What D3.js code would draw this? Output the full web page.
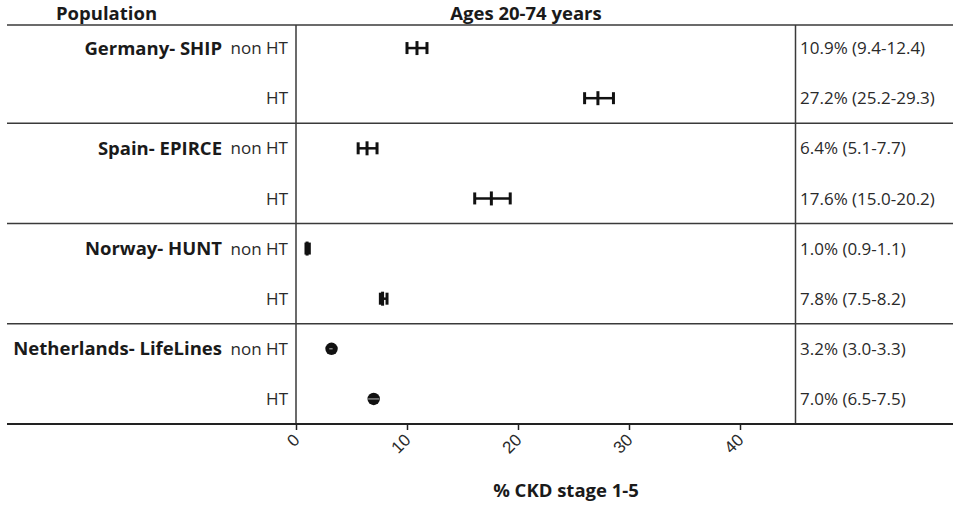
<!DOCTYPE html>
<html lang="en">
<head>
  <meta charset="UTF-8" />
  <title>CKD prevalence forest plot</title>
  <script src="https://d3js.org/d3.v7.min.js"></script>
  <style>
    body {
      margin: 0;
      background: white;
      font-family: "Open Sans", Lato, sans-serif;
      color: #222;
    }

    svg {
      display: block;
    }

    .grid-line {
      stroke: #3a3a3a;
      stroke-width: 1.5px;
    }

    .bold-label {
      font-size: 18.5px;
      font-weight: bold;
      fill: #1a1a1a;
    }

    .row-label,
    .ci-label {
      font-size: 17px;
      fill: #2a2a2a;
    }

    .axis text {
      font-size: 17px;
      fill: #2a2a2a;
    }

    .axis line {
      stroke: #222;
      stroke-width: 1.5px;
    }

    .whisker {
      stroke: #111;
      stroke-width: 2.5px;
    }

    .cap {
      stroke: #111;
      stroke-width: 3px;
    }
  </style>
</head>
<body>
  <svg width="953" height="506"></svg>

  <script>
    // data
    const populations = ["Germany- SHIP", "Spain- EPIRCE", "Norway- HUNT", "Netherlands- LifeLines"];
    const groups = ["non HT", "HT"];
    const estimate = [10.9, 27.2, 6.4, 17.6, 1.0, 7.8, 3.2, 7.0];
    // whisker ends as drawn in the figure
    const whiskerLow  = [10.0, 26.0, 5.6, 16.1, 0.9, 7.6, 3.0, 6.5];
    const whiskerHigh = [11.8, 28.6, 7.3, 19.3, 1.2, 8.2, 3.3, 7.5];
    const ciLabels = [
      "10.9% (9.4-12.4)", "27.2% (25.2-29.3)",
      "6.4% (5.1-7.7)", "17.6% (15.0-20.2)",
      "1.0% (0.9-1.1)", "7.8% (7.5-8.2)",
      "3.2% (3.0-3.3)", "7.0% (6.5-7.5)"
    ];
    const markerType = ["bar", "bar", "bar", "bar", "bar", "bar", "dot", "dot"];
    const xTicks = [0, 10, 20, 30, 40];

    const rows = [];
    populations.forEach((p, i) => {
      groups.forEach((g, j) => {
        const k = i * groups.length + j;
        rows.push({
          id: p + "|" + g,
          population: p,
          group: g,
          first: j === 0,
          est: estimate[k],
          lo: whiskerLow[k],
          hi: whiskerHigh[k],
          label: ciLabels[k],
          marker: markerType[k]
        });
      });
    });

    const svg = d3.select("svg"),
          width = +svg.attr("width");

    const plotLeft = 296, plotRight = 795.5, plotTop = 25, plotBottom = 424;

    const x = d3.scaleLinear()
                .domain([0, 45])
                .range([plotLeft, plotRight]);

    const y = d3.scaleBand()
                .domain(rows.map(d => d.id))
                .range([plotTop - 2, plotBottom]);

    const section = d3.scaleBand()
                      .domain(populations)
                      .range([plotTop - 2, plotBottom]);

    const cy = d => y(d.id) + y.bandwidth() / 2;

    // header
    svg.append("text")
       .attr("class", "bold-label")
       .attr("x", 56)
       .attr("y", 20)
       .text("Population");

    svg.append("text")
       .attr("class", "bold-label")
       .attr("x", 526)
       .attr("y", 20)
       .attr("text-anchor", "middle")
       .text("Ages 20-74 years");

    // horizontal separators
    svg.selectAll(".sep")
       .data(populations.slice(1))
       .enter()
       .append("line")
       .attr("class", "grid-line")
       .attr("x1", 7)
       .attr("x2", width)
       .attr("y1", d => section(d))
       .attr("y2", d => section(d));

    svg.append("line")
       .attr("class", "grid-line")
       .attr("x1", 7).attr("x2", width)
       .attr("y1", plotTop).attr("y2", plotTop);

    // vertical lines
    [plotLeft, plotRight].forEach(v => {
      svg.append("line")
         .attr("class", "grid-line")
         .attr("x1", v).attr("x2", v)
         .attr("y1", plotTop).attr("y2", plotBottom);
    });

    // x axis
    const axis = svg.append("g")
       .attr("class", "axis")
       .attr("transform", `translate(0,${plotBottom})`)
       .call(d3.axisBottom(x).tickValues(xTicks).tickSize(6).tickSizeOuter(0));

    axis.select(".domain").remove();
    axis.selectAll("text")
        .attr("y", 0)
        .attr("dy", 0)
        .attr("transform", "translate(1,14) rotate(-45)")
        .style("text-anchor", "end")
        .attr("dominant-baseline", "middle");

    svg.append("line")
       .attr("x1", 7).attr("x2", width)
       .attr("y1", plotBottom).attr("y2", plotBottom)
       .attr("stroke", "#222")
       .attr("stroke-width", 2.2);

    svg.append("text")
       .attr("class", "bold-label")
       .attr("x", 566)
       .attr("y", 497)
       .attr("text-anchor", "middle")
       .text("% CKD stage 1-5");

    // population names
    svg.selectAll(".pop-label")
       .data(rows.filter(d => d.first))
       .enter()
       .append("text")
       .attr("class", "bold-label")
       .attr("x", 222)
       .attr("y", cy)
       .attr("dy", "0.36em")
       .attr("text-anchor", "end")
       .text(d => d.population);

    // group labels
    svg.selectAll(".row-label")
       .data(rows)
       .enter()
       .append("text")
       .attr("class", "row-label")
       .attr("x", 288)
       .attr("y", cy)
       .attr("dy", "0.36em")
       .attr("text-anchor", "end")
       .text(d => d.group);

    // CI text
    svg.selectAll(".ci-label")
       .data(rows)
       .enter()
       .append("text")
       .attr("class", "ci-label")
       .attr("x", 800)
       .attr("y", cy)
       .attr("dy", "0.36em")
       .text(d => d.label);

    // error bars
    const bars = svg.selectAll(".ebar")
       .data(rows)
       .enter()
       .append("g")
       .attr("transform", d => `translate(0,${cy(d)})`);

    bars.filter(d => d.marker === "bar").each(function(d) {
      const g = d3.select(this);
      g.append("line").attr("class", "whisker")
       .attr("x1", x(d.lo)).attr("x2", x(d.hi)).attr("y1", 0).attr("y2", 0);
      [d.lo, d.hi].forEach(v => {
        g.append("line").attr("class", "cap")
         .attr("x1", x(v)).attr("x2", x(v)).attr("y1", -6).attr("y2", 6);
      });
      g.append("line")
       .attr("x1", x(d.est)).attr("x2", x(d.est))
       .attr("y1", -7).attr("y2", 7)
       .attr("stroke", "#111")
       .attr("stroke-width", 3);
    });

    bars.filter(d => d.marker === "dot").each(function(d) {
      const g = d3.select(this);
      g.append("circle")
       .attr("cx", x(d.est)).attr("cy", 0).attr("r", 6.2)
       .attr("fill", "#111");
      g.append("line")
       .attr("x1", x(d.lo)).attr("x2", x(d.hi)).attr("y1", 0).attr("y2", 0)
       .attr("stroke", "#bbb").attr("stroke-width", 1);
    });
  </script>
</body>
</html>
